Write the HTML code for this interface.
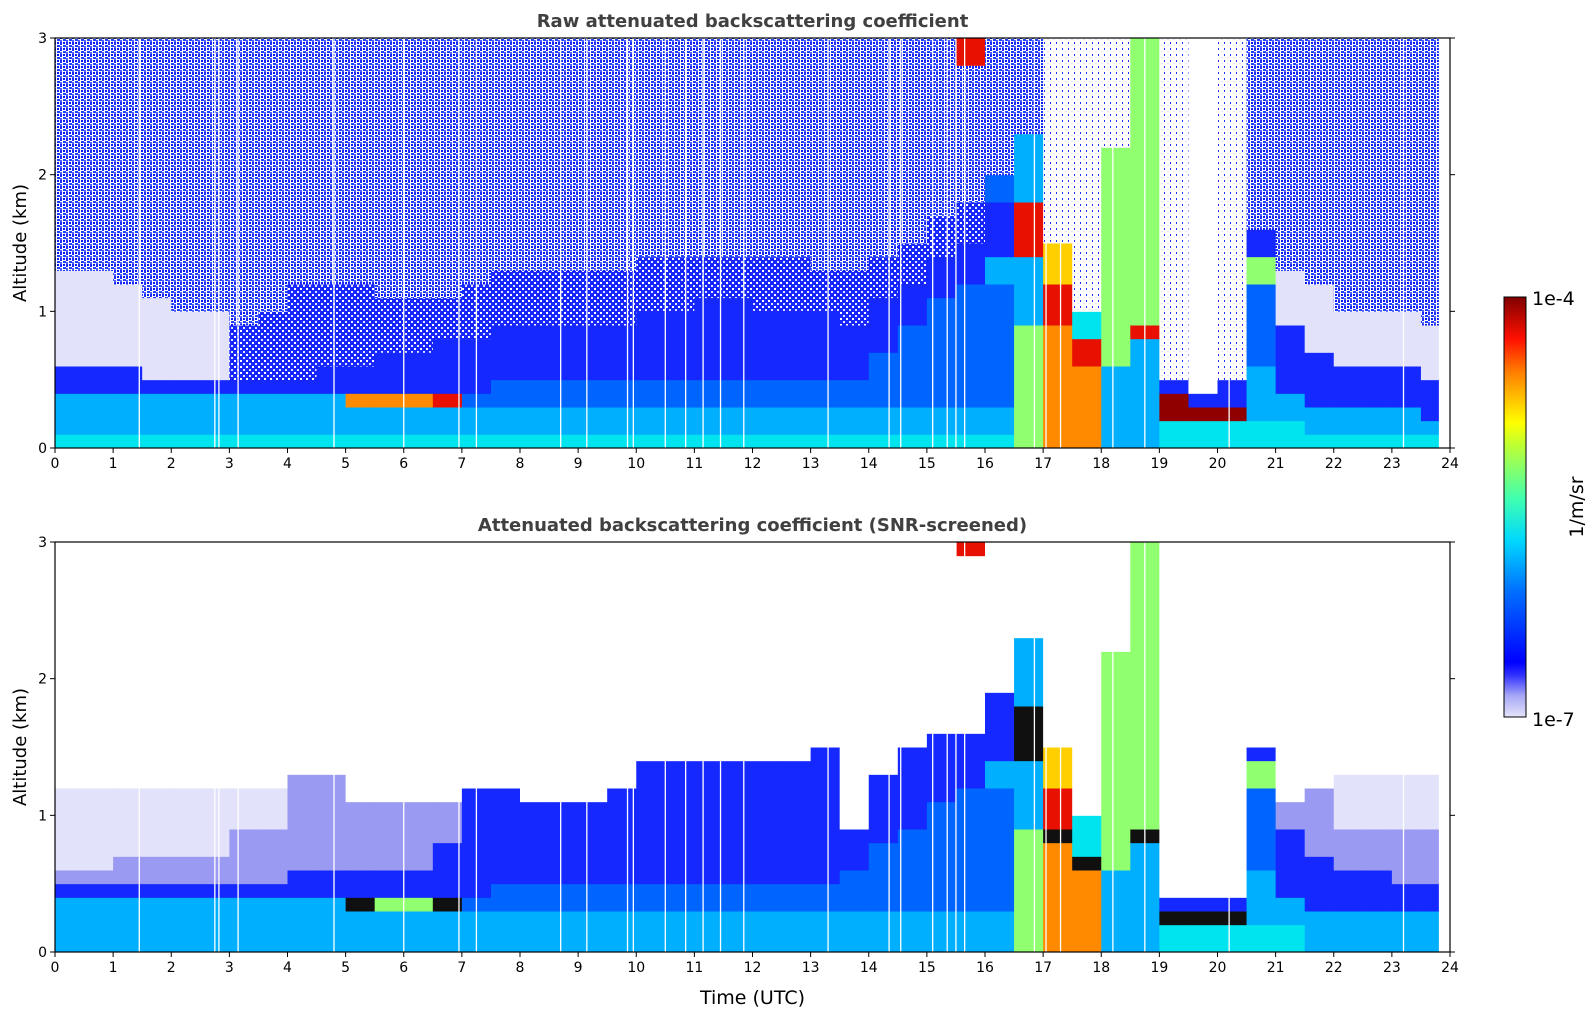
<!DOCTYPE html>
<html><head><meta charset="utf-8">
<style>
body{margin:0;background:#fff;}
svg{display:block;font-family:"DejaVu Sans","Liberation Sans",sans-serif;}
</style></head>
<body>
<svg id="chart" width="1595" height="1020" viewBox="0 0 1595 1020">
<defs>
<pattern id="speck" width="6" height="6" patternUnits="userSpaceOnUse">
<rect width="6" height="6" fill="#ffffff"/>
<rect x="0" y="0" width="2" height="3" fill="#1a2cff"/><rect x="3" y="3" width="3" height="2" fill="#2040ff"/><rect x="3" y="0" width="2" height="2" fill="#0a18f0"/><rect x="0" y="4" width="2" height="2" fill="#5060ff"/><rect x="4" y="5" width="1" height="1" fill="#e4e4fa"/>
</pattern>
<pattern id="speckd" width="6" height="6" patternUnits="userSpaceOnUse">
<rect width="6" height="6" fill="#1828ff"/>
<rect x="0" y="0" width="2" height="2" fill="#ffffff"/><rect x="3" y="3" width="2" height="2" fill="#dfe0fa"/><rect x="4" y="1" width="1" height="1" fill="#0a10ee"/>
</pattern>
<pattern id="specks" width="6" height="6" patternUnits="userSpaceOnUse">
<rect width="6" height="6" fill="#ffffff"/>
<rect x="0" y="0" width="1" height="2" fill="#2030ff"/><rect x="3" y="3" width="2" height="1" fill="#e4e4fa"/>
</pattern>
<linearGradient id="cbar" x1="0" y1="1" x2="0" y2="0">
<stop offset="0" stop-color="#e4e4fa"/><stop offset="0.05" stop-color="#a8a8f6"/><stop offset="0.1" stop-color="#3030ff"/>
<stop offset="0.13" stop-color="#0000ff"/><stop offset="0.3" stop-color="#0070ff"/><stop offset="0.42" stop-color="#00d8ff"/>
<stop offset="0.52" stop-color="#40ffb0"/><stop offset="0.65" stop-color="#c0ff30"/><stop offset="0.7" stop-color="#ffff00"/>
<stop offset="0.82" stop-color="#ff8000"/><stop offset="0.9" stop-color="#ff1000"/><stop offset="1" stop-color="#800000"/>
</linearGradient>
</defs>
<g id="plots"></g>
</svg>
<script>
const timeTicks = [0,1,2,3,4,5,6,7,8,9,10,11,12,13,14,15,16,17,18,19,20,21,22,23,24];
const altTicks = [0,1,2,3];
const colStep = 0.5;
const dataEnd = 23.8;
const altStep = 0.1;
// run-length profiles from ground: "level:topRow" (row = 0.1 km)
const rawProfiles = [
"6:1,5:4,3:6,1:13,s:30","6:1,5:4,3:6,1:13,s:30","6:1,5:4,3:6,1:12,s:30","6:1,5:4,3:5,1:11,s:30",
"6:1,5:4,3:5,1:10,s:30","6:1,5:4,3:5,1:10,s:30","6:1,5:4,3:5,b:9,s:30","6:1,5:4,3:5,b:10,s:30",
"6:1,5:4,3:5,b:12,s:30","6:1,5:4,3:6,b:12,s:30","6:1,5:3,9:4,3:6,b:12,s:30","6:1,5:3,9:4,3:7,b:11,s:30",
"6:1,5:3,9:4,3:7,b:11,s:30","6:1,5:3,r:4,3:8,b:11,s:30","6:1,5:3,4:4,3:8,b:12,s:30","6:1,5:3,4:5,3:9,b:13,s:30",
"6:1,5:3,4:5,3:9,b:13,s:30","6:1,5:3,4:5,3:9,b:13,s:30","6:1,5:3,4:5,3:9,b:13,s:30","6:1,5:3,4:5,3:9,b:13,s:30",
"6:1,5:3,4:5,3:10,b:14,s:30","6:1,5:3,4:5,3:10,b:14,s:30","6:1,5:3,4:5,3:11,b:14,s:30","6:1,5:3,4:5,3:11,b:14,s:30",
"6:1,5:3,4:5,3:10,b:14,s:30","6:1,5:3,4:5,3:10,b:14,s:30","6:1,5:3,4:5,3:10,b:13,s:30","6:1,5:3,4:5,3:9,b:13,s:30",
"6:1,5:3,4:7,3:11,b:14,s:30","6:1,5:3,4:9,3:12,b:15,s:30","6:1,5:3,4:11,3:14,b:17,s:30","6:1,5:3,4:12,3:15,b:18,s:28,r:30",
"6:1,5:3,4:12,5:14,3:18,4:20,s:30","7:9,5:14,r:18,5:23,s:30","9:9,r:12,8:15,t:30","9:6,r:8,6:10,t:30",
"5:6,7:22,t:30","5:8,r:9,7:30","6:2,d:4,3:5,t:30","6:2,d:3,3:4,0:30",
"6:2,d:3,3:5,t:30","6:2,5:6,4:12,7:14,3:16,s:30","6:2,5:4,3:9,1:13,s:30","6:1,5:3,3:7,1:12,s:30",
"6:1,5:3,3:6,1:10,s:30","6:1,5:3,3:6,1:10,s:30","6:1,5:3,3:6,1:10,s:30","6:1,5:2,3:5,1:9,s:30"];
const snrProfiles = [
"5:4,3:5,p:6,1:12,0:30","5:4,3:5,p:6,1:12,0:30","5:4,3:5,p:7,1:12,0:30","5:4,3:5,p:7,1:12,0:30",
"5:4,3:5,p:7,1:12,0:30","5:4,3:5,p:7,1:12,0:30","5:4,3:5,p:9,1:12,0:30","5:4,3:5,p:9,1:12,0:30",
"5:4,3:6,p:13,0:30","5:4,3:6,p:13,0:30","5:3,k:4,3:6,p:11,0:30","5:3,7:4,3:6,p:11,0:30",
"5:3,7:4,3:6,p:11,0:30","5:3,k:4,3:8,p:11,0:30","5:3,4:4,3:12,0:30","5:3,4:5,3:12,0:30",
"5:3,4:5,3:11,0:30","5:3,4:5,3:11,0:30","5:3,4:5,3:11,0:30","5:3,4:5,3:12,0:30",
"5:3,4:5,3:14,0:30","5:3,4:5,3:14,0:30","5:3,4:5,3:14,0:30","5:3,4:5,3:14,0:30",
"5:3,4:5,3:14,0:30","5:3,4:5,3:14,0:30","5:3,4:5,3:15,0:30","5:3,4:6,3:9,0:30",
"5:3,4:8,3:13,0:30","5:3,4:9,3:15,0:30","5:3,4:11,3:16,0:30","5:3,4:12,3:16,0:29,r:30",
"5:3,4:12,5:14,3:19,0:30","7:9,5:14,k:18,5:23,0:30","9:8,k:9,r:12,8:15,0:30","9:6,k:7,6:10,0:30",
"5:6,7:22,0:30","5:8,k:9,7:30","6:2,k:3,3:4,0:30","6:2,k:3,3:4,0:30",
"6:2,k:3,3:4,0:30","6:2,5:6,4:12,7:14,3:15,0:30","6:2,5:4,3:9,p:11,0:30","5:3,3:7,p:12,0:30",
"5:3,3:6,p:9,1:13,0:30","5:3,3:6,p:9,1:13,0:30","5:3,3:5,p:9,1:13,0:30","5:3,3:5,p:9,1:13,0:30"];
const gapTimes = [1.45,2.75,2.82,3.15,4.8,6.0,6.95,7.25,8.7,9.15,9.85,9.95,10.5,10.85,11.15,11.45,11.85,13.3,14.35,14.55,15.1,15.35,15.5,15.65,16.85,17.05,17.3,18.2,18.75,20.2,23.2];

const palette = {"0":"#ffffff","1":"#e2e2fa","p":"#9a9af2","s":"url(#speck)","t":"url(#specks)","b":"url(#speckd)",
"3":"#1428ff","4":"#0064ff","5":"#00b0ff","6":"#00e4f0","7":"#90ff70","8":"#ffd000","9":"#ff8a00","r":"#e81000","d":"#900000","k":"#101010"};

const NS = "http://www.w3.org/2000/svg";
const root = document.getElementById('plots');
function mk(tag, attrs, parent){const e=document.createElementNS(NS,tag);for(const k in attrs)e.setAttribute(k,attrs[k]);(parent||root).appendChild(e);return e;}

const X0=55, X1=1450;
function xScale(t){return X0+(X1-X0)*t/24;}

function panel(top, bottom, profiles, title, name, showXLabel){
  const g=mk('g',{});
  
  
  function yScale(a){return bottom-(bottom-top)*a/3;}
  profiles.forEach((prof,i)=>{
    const t0=i*colStep, t1=Math.min((i+1)*colStep,dataEnd);
    let lo=0;
    prof.split(',').forEach(run=>{
      const [lv,hi]=run.split(':');const h=+hi;
      const r=mk('rect',{x:xScale(t0),y:yScale(h*altStep),width:xScale(t1)-xScale(t0)+0.5,height:yScale(lo*altStep)-yScale(h*altStep)+0.5,fill:palette[lv]},g);
      
      
      lo=h;
    });
  });
  gapTimes.forEach(t=>{
    const l=mk('line',{x1:xScale(t),x2:xScale(t),y1:top,y2:bottom,stroke:'#fff','stroke-width':1.3},g);
    
    
  });
  const fr=mk('rect',{x:X0,y:top,width:X1-X0,height:bottom-top,fill:'none',stroke:'#000','stroke-width':1.2},g);
  
  
  timeTicks.forEach(t=>{
    mk('line',{x1:xScale(t),x2:xScale(t),y1:bottom,y2:bottom+5,stroke:'#000'},g);
    const tx=mk('text',{x:xScale(t),y:bottom+20,'text-anchor':'middle','font-size':14},g);
    tx.textContent=t;
    
    
  });
  altTicks.forEach(a=>{
    mk('line',{x1:X0-5,x2:X0,y1:yScale(a),y2:yScale(a),stroke:'#000'},g);
    mk('line',{x1:X1,x2:X1+5,y1:yScale(a),y2:yScale(a),stroke:'#000'},g);
    const tx=mk('text',{x:X0-8,y:yScale(a)+5,'text-anchor':'end','font-size':14},g);
    tx.textContent=a;
    
    
  });
  const tt=mk('text',{x:(X0+X1)/2,y:top-11,'text-anchor':'middle','font-size':18,'font-weight':'bold',fill:'#404040'},g);
  tt.textContent=title;
  
  
  const yl=mk('text',{x:0,y:0,'text-anchor':'middle','font-size':18,transform:`translate(26,${(top+bottom)/2}) rotate(-90)`},g);
  yl.textContent='Altitude (km)';
  
  
  if(showXLabel){
    const xl=mk('text',{x:(X0+X1)/2,y:1004,'text-anchor':'middle','font-size':19},g);
    xl.textContent='Time (UTC)';
    
    
  }
}
panel(38,448,rawProfiles,'Raw attenuated backscattering coefficient','raw-panel',false);
panel(542,952,snrProfiles,'Attenuated backscattering coefficient (SNR-screened)','snr-panel',true);

// colorbar
const cb=mk('rect',{x:1504,y:297,width:22,height:420,fill:'url(#cbar)',stroke:'#000','stroke-width':1});


const c1=mk('text',{x:1532,y:305,'font-size':19});c1.textContent='1e-4';


const c2=mk('text',{x:1532,y:726,'font-size':19});c2.textContent='1e-7';


const c3=mk('text',{x:0,y:0,'font-size':19,'text-anchor':'middle',transform:'translate(1583,507) rotate(-90)'});c3.textContent='1/m/sr';


</script>
</body></html>
